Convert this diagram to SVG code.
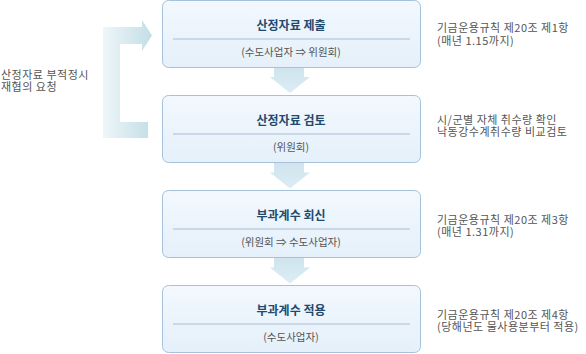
<svg xmlns="http://www.w3.org/2000/svg" width="586" height="354" viewBox="0 0 586 354">
<defs>
<linearGradient id="boxg" x1="0" y1="0" x2="0" y2="1">
<stop offset="0" stop-color="#f2f8fe"/>
<stop offset="1" stop-color="#e5f0fa"/>
</linearGradient>
<linearGradient id="downg" x1="0" y1="0" x2="0" y2="1">
<stop offset="0" stop-color="#cfe4ee"/>
<stop offset="1" stop-color="#dcedf4"/>
</linearGradient>
<linearGradient id="brg" x1="0" y1="0" x2="1" y2="0">
<stop offset="0" stop-color="#eef6f9"/>
<stop offset="1" stop-color="#c3dee6"/>
</linearGradient>
<path id="darrow" d="M274,0 H304 V9.5 H310 L290,25.5 L270,9.5 H274 Z"/>
</defs>
<style>
.box{fill:url(#boxg);stroke:#a6c1da;stroke-width:1}
.div{stroke:#a8bed4;stroke-width:1}
.t{font-family:"Noto Sans CJK KR","Noto Sans",sans-serif;font-size:12px;font-weight:bold;fill:#1f4a6e;text-anchor:middle}
.s{font-family:"Noto Sans CJK KR","Noto Sans",sans-serif;font-size:10.5px;fill:#555;text-anchor:middle}
.n{font-family:"Noto Sans CJK KR","Noto Sans",sans-serif;font-size:11px;fill:#555;letter-spacing:0.5px}
</style>
<g id="connectors">
<use href="#darrow" y="67.5" fill="url(#downg)"/>
<use href="#darrow" y="163" fill="url(#downg)"/>
<use href="#darrow" y="258" fill="url(#downg)"/>
<path d="M103,27 H142 V20 L152,35.5 L142,51 V44 H120 V122 H148 V138 H103 Z" fill="url(#brg)"/>
</g>
<g id="node1">
<rect class="box" x="162.5" y="0.5" width="258" height="67" rx="6"/>
<line class="div" x1="173" y1="39" x2="410" y2="39"/>
<text class="t" x="291" y="30">산정자료 제출</text>
<text class="s" x="291" y="55.5">(수도사업자 ⇒ 위원회)</text>
</g>
<g id="node2">
<rect class="box" x="162.5" y="95.5" width="258" height="67" rx="6"/>
<line class="div" x1="173" y1="134" x2="410" y2="134"/>
<text class="t" x="291" y="125">산정자료 검토</text>
<text class="s" x="291" y="150.5">(위원회)</text>
</g>
<g id="node3">
<rect class="box" x="162.5" y="190.5" width="258" height="67" rx="6"/>
<line class="div" x1="173" y1="229" x2="410" y2="229"/>
<text class="t" x="291" y="220">부과계수 회신</text>
<text class="s" x="291" y="245.5">(위원회 ⇒ 수도사업자)</text>
</g>
<g id="node4">
<rect class="box" x="162.5" y="285.5" width="258" height="67" rx="6"/>
<line class="div" x1="173" y1="324" x2="410" y2="324"/>
<text class="t" x="291" y="315">부과계수 적용</text>
<text class="s" x="291" y="340.5">(수도사업자)</text>
</g>
<g id="notes">
<text class="n" x="1" y="78.5">산정자료 부적정시</text>
<text class="n" x="1" y="91">재협의 요청</text>
<text class="n" x="437" y="32">기금운용규칙 제20조 제1항</text>
<text class="n" x="437" y="44.5">(매년 1.15까지)</text>
<text class="n" x="437" y="123.5">시/군별 자체 취수량 확인</text>
<text class="n" x="437" y="136">낙동강수계취수량 비교검토</text>
<text class="n" x="437" y="223.5">기금운용규칙 제20조 제3항</text>
<text class="n" x="437" y="236">(매년 1.31까지)</text>
<text class="n" x="437" y="318.5">기금운용규칙 제20조 제4항</text>
<text class="n" x="437" y="331">(당해년도 물사용분부터 적용)</text>
</g>
</svg>
